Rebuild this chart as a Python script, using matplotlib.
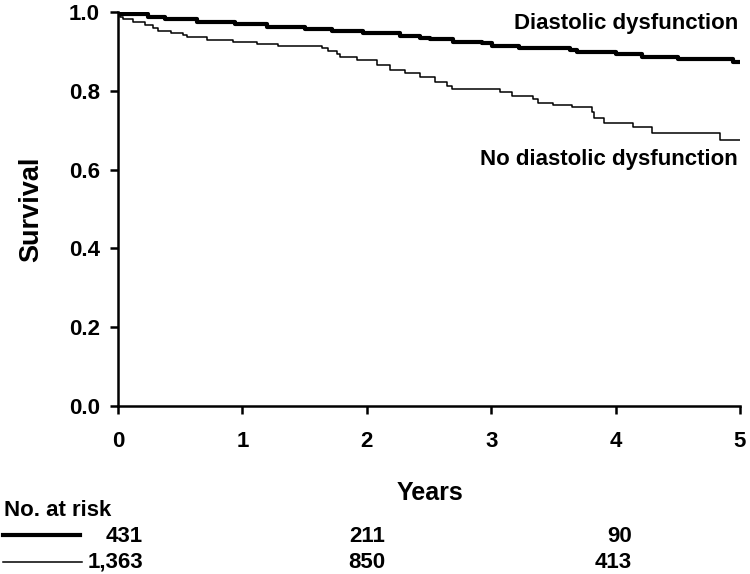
import matplotlib.pyplot as plt
from matplotlib import rcParams
from matplotlib.lines import Line2D

rcParams['font.family'] = ['Liberation Sans', 'DejaVu Sans']
rcParams['font.weight'] = 'bold'

# Kaplan-Meier step data (time in years, survival)
t_dd = [0, 0.024, 0.24, 0.38, 0.635, 0.94, 1.20, 1.50, 1.72, 1.97, 2.27, 2.43, 2.51,
        2.69, 2.93, 3.01, 3.22, 3.63, 3.69, 4.00, 4.21, 4.50, 4.94, 5.0]
s_dd = [1.0, 0.995, 0.987, 0.981, 0.975, 0.970, 0.962, 0.957, 0.952, 0.947, 0.939,
        0.934, 0.931, 0.925, 0.921, 0.914, 0.909, 0.904, 0.898, 0.893, 0.887, 0.881,
        0.874, 0.874]

t_no = [0, 0.016, 0.04, 0.12, 0.217, 0.28, 0.32, 0.43, 0.52, 0.555, 0.715, 0.924,
        1.117, 1.286, 1.64, 1.69, 1.76, 1.785, 1.92, 2.08, 2.19, 2.31, 2.43, 2.55,
        2.645, 2.685, 3.07, 3.17, 3.34, 3.38, 3.50, 3.65, 3.81, 3.83, 3.91, 4.14,
        4.29, 4.84, 5.0]
s_no = [1.0, 0.987, 0.982, 0.975, 0.967, 0.959, 0.952, 0.947, 0.942, 0.937, 0.929,
        0.924, 0.919, 0.914, 0.909, 0.901, 0.893, 0.886, 0.878, 0.865, 0.853, 0.845,
        0.835, 0.822, 0.812, 0.805, 0.797, 0.787, 0.779, 0.769, 0.764, 0.759, 0.746,
        0.731, 0.718, 0.708, 0.693, 0.675, 0.675]

risk_dd = ['431', '211', '90']
risk_no = ['1,363', '850', '413']

W, H = 750, 574
fig = plt.figure(figsize=(W / 100, H / 100), dpi=100)
ax = fig.add_axes([118 / W, 1 - 406 / H, (740 - 118) / W, (406 - 12) / H])

ax.step(t_dd, s_dd, where='post', color='black', lw=3)
ax.step(t_no, s_no, where='post', color='black', lw=1.1)

ax.set_xlim(0, 5)
ax.set_ylim(0, 1.0)
ax.set_xticks(range(6))
ax.set_yticks([0, 0.2, 0.4, 0.6, 0.8, 1.0])
ax.set_yticklabels(['0.0', '0.2', '0.4', '0.6', '0.8', '1.0'])
for sp in ['top', 'right']:
    ax.spines[sp].set_visible(False)
for sp in ['left', 'bottom']:
    ax.spines[sp].set_linewidth(1.8)
ax.tick_params(direction='out', length=6, width=1.8, labelsize=16)
ax.tick_params(axis='y', pad=7)
ax.tick_params(axis='x', pad=12)

# texts placed in pixel positions of the figure
def ftext(x, y, s, **kw):
    fig.text(x / W, 1 - y / H, s, **kw)

ftext(31, 209, 'Survival', fontsize=19.5, rotation=90, ha='center', va='center')
ftext(738, 24, 'Diastolic dysfunction', fontsize=16, ha='right', va='center')
ftext(738, 159, 'No diastolic dysfunction', fontsize=16, ha='right', va='center')
ftext(430, 493, 'Years', fontsize=18, ha='center', va='center')

# number at risk table
ftext(4, 510, 'No. at risk', fontsize=16, ha='left', va='center')
cols = [143, 385, 632]
for x, a, b in zip(cols, risk_dd, risk_no):
    ftext(x, 536, a, fontsize=16, ha='right', va='center')
    ftext(x, 562, b, fontsize=16, ha='right', va='center')
fig.add_artist(Line2D([3 / W, 80 / W], [1 - 535 / H, 1 - 535 / H], color='black', lw=3))
fig.add_artist(Line2D([3 / W, 82 / W], [1 - 562 / H, 1 - 562 / H], color='black', lw=1.1))

plt.savefig('out.png', dpi=100)
